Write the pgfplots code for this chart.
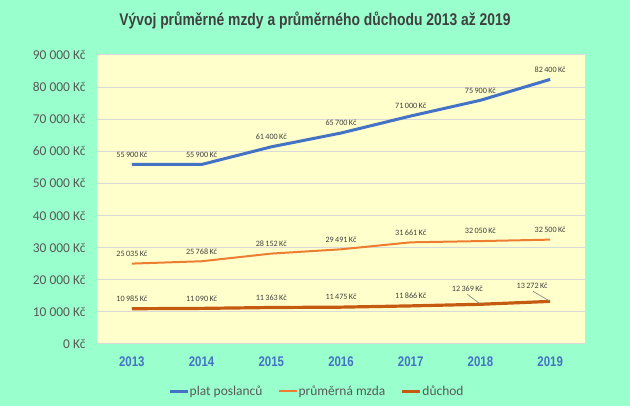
\documentclass[border=0pt]{standalone}
\usepackage{fontspec}
\setmainfont{Carlito}
\newfontfamily\narrow[FakeStretch=0.82]{Liberation Sans}
\usepackage{pgfplots}
\usepackage{pgfplotstable}
\pgfplotsset{compat=1.18}

\definecolor{mint}{RGB}{153,255,204}
\definecolor{cream}{RGB}{255,255,204}
\definecolor{gridgray}{RGB}{217,217,217}
\definecolor{axisgray}{RGB}{89,89,89}
\definecolor{labelgray}{RGB}{64,64,64}
\definecolor{xblue}{RGB}{68,114,196}
\definecolor{sblue}{RGB}{68,114,196}
\definecolor{sorange}{RGB}{237,125,49}
\definecolor{sdark}{RGB}{197,90,17}

% rok, hodnota, posun popisku
\pgfplotstableread{
x y
0 55900
1 55900
2 61400
3 65700
4 71000
5 75900
6 82400
}\poslanci
\pgfplotstableread{
x y
0 25035
1 25768
2 28152
3 29491
4 31661
5 32050
6 32500
}\mzda
\pgfplotstableread{
x y dx dy
0 10985 0 0
1 11090 0 0
2 11363 0 0
3 11475 0 0
4 11866 0 0
5 12369 -13 6
6 13272 -18 6
}\duchod

\begin{document}
\begin{tikzpicture}
\fill[mint] (0bp,0bp) rectangle (630bp,406bp);
\node[font=\narrow\bfseries\fontsize{17}{19}\selectfont, text=labelgray]
  at (315bp,386bp) {Vývoj průměrné mzdy a průměrného důchodu 2013 až 2019};
\begin{axis}[
    at={(97bp,62bp)}, anchor=south west,
    scale only axis, width=488bp, height=289bp,
    xmin=-0.5, xmax=6.5, ymin=0, ymax=90000,
    axis background/.style={fill=cream},
    axis line style={draw=none},
    ymajorgrids, grid style={gridgray, line width=1bp},
    major tick length=0,
    scaled y ticks=false,
    xtick={0,...,6},
    xticklabels={2013,2014,2015,2016,2017,2018,2019},
    ytick={0,10000,...,90000},
    yticklabels={0 Kč,10 000 Kč,20 000 Kč,30 000 Kč,40 000 Kč,50 000 Kč,60 000 Kč,70 000 Kč,80 000 Kč,90 000 Kč},
    xticklabel style={font=\narrow\bfseries\fontsize{14}{16}\selectfont, text=xblue, anchor=center, yshift=-18bp},
    yticklabel style={font=\fontsize{13.5}{15}\selectfont, text=axisgray, xshift=-8bp},
    /pgf/number format/assume math mode=true,
    clip=false,
    nodes near coords={\pgfmathprintnumber[fixed,precision=0,1000 sep={\,}]{\pgfplotspointmeta}\,Kč},
    every node near coord/.style={anchor=center, yshift=10bp, font=\fontsize{8.2}{9}\selectfont, text=labelgray},
    legend style={at={(0.449,-0.163)}, anchor=center, draw=none, fill=none,
      font=\fontsize{13.5}{15}\selectfont, text=axisgray,
      nodes={inner xsep=0.5bp},
      /tikz/every even column/.append style={column sep=15bp}},
    legend columns=-1,
    legend image code/.code={\draw[#1] (0bp,0bp) -- (18bp,0bp);},
]
\addplot[sblue, line width=3bp] table {\poslanci};
\addlegendentry{plat poslanců}
\addplot[sorange, line width=2bp] table {\mzda};
\addlegendentry{průměrná mzda}
\addplot[sdark, line width=3.2bp,
  visualization depends on={\thisrow{dx}\as\dx},
  visualization depends on={\thisrow{dy}\as\dy},
  every node near coord/.append style={xshift={\dx*1bp}, yshift={\dy*1bp}}] table {\duchod};
\addlegendentry{důchod}
\draw[gray, line width=0.6bp] ([xshift=-13bp,yshift=10bp]axis cs:5,12369) -- (axis cs:5,12369);
\draw[gray, line width=0.6bp] ([xshift=-17bp,yshift=10bp]axis cs:6,13272) -- (axis cs:6,13272);
\end{axis}
\end{tikzpicture}
\end{document}
